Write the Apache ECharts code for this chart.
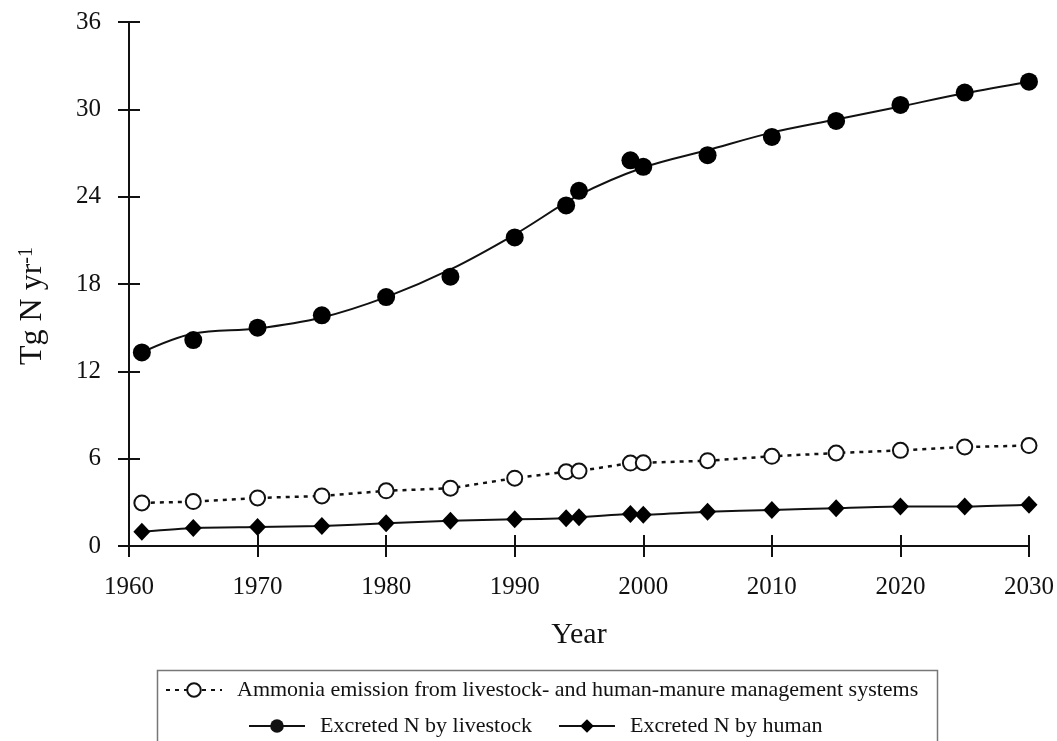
<!doctype html>
<html>
    <head>
        <meta charset="utf-8">
        <title>Excreted N and ammonia emission</title>
        <style>
            html, body { margin: 0; padding: 0; background: #fff; }
            #main { width: 1057px; height: 741px; }
        </style>
    </head>
    <body>
        <div id="main"></div>
        <script src="https://cdn.jsdelivr.net/npm/echarts@6/dist/echarts.min.js"></script>
        <script>
            // years with reported / projected values
            var years = [1961, 1965, 1970, 1975, 1980, 1985, 1990, 1994, 1995, 1999, 2000, 2005, 2010, 2015, 2020, 2025, 2030];

            var livestockPoints = [13.3, 14.15, 15.0, 15.85, 17.1, 18.5, 21.2, 23.4, 24.4, 26.5, 26.05, 26.85, 28.1, 29.2, 30.3, 31.15, 31.9];
            var ammoniaPoints = [2.96, 3.05, 3.3, 3.44, 3.79, 3.97, 4.66, 5.1, 5.15, 5.7, 5.72, 5.86, 6.16, 6.39, 6.57, 6.8, 6.9];
            var humanPoints = [0.98, 1.24, 1.3, 1.38, 1.56, 1.74, 1.83, 1.9, 1.97, 2.2, 2.15, 2.36, 2.48, 2.6, 2.71, 2.71, 2.83];

            // trend curve drawn through the livestock points
            var trendYears = [1961, 1965, 1970, 1975, 1980, 1985, 1990, 1995, 2000, 2005, 2010, 2015, 2020, 2025, 2030];
            var livestockTrend = [13.3, 14.6, 14.95, 15.7, 17.1, 19.0, 21.4, 24.1, 26.0, 27.2, 28.4, 29.3, 30.2, 31.1, 31.9];

            var yTicks = [0, 6, 12, 18, 24, 30, 36];

            var NAME_AMMONIA = 'Ammonia emission from livestock- and human-manure management systems';
            var NAME_LIVESTOCK = 'Excreted N by livestock';
            var NAME_HUMAN = 'Excreted N by human';

            function pairs(xs, ys) {
                return xs.map(function (x, i) { return [x, ys[i]]; });
            }

            var serif = 'Liberation Serif';
            var ink = '#111';

            var chart = echarts.init(document.getElementById('main'));

            var xAxisBase = {
                type: 'value',
                min: 1960,
                max: 2030,
                interval: 10,
                axisLine: { show: true, lineStyle: { color: ink, width: 2 } },
                splitLine: { show: false },
                axisTick: { show: true, length: 11, lineStyle: { color: ink, width: 2 } }
            };
            var yAxisBase = {
                type: 'value',
                min: yTicks[0],
                max: yTicks[yTicks.length - 1],
                interval: 6,
                axisLine: { show: true, lineStyle: { color: ink, width: 2 } },
                splitLine: { show: false },
                axisTick: { show: true, length: 11, lineStyle: { color: ink, width: 2 } }
            };

            chart.setOption({
                animation: false,
                backgroundColor: '#fff',
                textStyle: { fontFamily: serif, color: ink },
                grid: { left: 129, right: 26, top: 22, bottom: 195, containLabel: false },
                xAxis: [
                    Object.assign({}, xAxisBase, {
                        name: 'Year',
                        nameLocation: 'middle',
                        nameGap: 74,
                        nameTextStyle: { fontFamily: serif, fontSize: 30, color: ink },
                        axisLabel: {
                            fontFamily: serif, fontSize: 25, color: ink, margin: 29,
                            formatter: function (v) { return String(v); }
                        }
                    }),
                    Object.assign({}, xAxisBase, {
                        position: 'bottom',
                        axisTick: { show: true, inside: true, length: 11, lineStyle: { color: ink, width: 2 } },
                        axisLabel: { show: false }
                    })
                ],
                yAxis: [
                    Object.assign({}, yAxisBase, {
                        name: '{n|Tg N yr}{s|-1}',
                        nameLocation: 'middle',
                        nameRotate: 90,
                        nameGap: 80,
                        nameTextStyle: {
                            padding: [0, 44, 0, 0],
                            rich: {
                                n: { fontFamily: serif, fontSize: 32, color: ink, lineHeight: 32 },
                                s: { fontFamily: serif, fontSize: 20, color: ink, verticalAlign: 'top', lineHeight: 32 }
                            }
                        },
                        axisLabel: { fontFamily: serif, fontSize: 25, color: ink, margin: 28 }
                    }),
                    Object.assign({}, yAxisBase, {
                        position: 'left',
                        axisTick: { show: true, inside: true, length: 11, lineStyle: { color: ink, width: 2 } },
                        axisLabel: { show: false }
                    })
                ],
                legend: [
                    {
                        data: [NAME_AMMONIA],
                        left: 160,
                        top: 674,
                        itemWidth: 56,
                        itemHeight: 17,
                        selectedMode: false,
                        textStyle: { fontFamily: serif, fontSize: 22, color: ink, padding: [0, 0, 0, 10] }
                    },
                    {
                        data: [NAME_LIVESTOCK, NAME_HUMAN],
                        left: 243,
                        top: 710,
                        itemWidth: 56,
                        itemHeight: 17,
                        itemGap: 26,
                        selectedMode: false,
                        textStyle: { fontFamily: serif, fontSize: 22, color: ink, padding: [0, 0, 0, 10] }
                    }
                ],
                graphic: [
                    {
                        type: 'rect',
                        left: 155,
                        top: 668,
                        shape: { width: 780, height: 90 },
                        style: { fill: 'none', stroke: '#777', lineWidth: 1.5 },
                        silent: true,
                        z: -1
                    }
                ],
                series: [
                    {
                        name: NAME_LIVESTOCK,
                        type: 'line',
                        data: pairs(trendYears, livestockTrend),
                        smooth: 0.35,
                        symbol: 'circle',
                        symbolSize: 14,
                        showSymbol: false,
                        itemStyle: { color: ink },
                        lineStyle: { color: ink, width: 2 },
                        z: 2
                    },
                    {
                        name: NAME_LIVESTOCK,
                        type: 'scatter',
                        data: pairs(years, livestockPoints),
                        symbol: 'circle',
                        symbolSize: 18,
                        itemStyle: { color: '#000', opacity: 1 },
                        z: 3
                    },
                    {
                        name: NAME_AMMONIA,
                        type: 'line',
                        data: pairs(years, ammoniaPoints),
                        symbol: 'emptyCircle',
                        symbolSize: 15,
                        showAllSymbol: true,
                        itemStyle: { color: ink, borderWidth: 2 },
                        lineStyle: { color: ink, width: 2.5, type: [4, 5] },
                        z: 3
                    },
                    {
                        name: NAME_HUMAN,
                        type: 'line',
                        data: pairs(years, humanPoints),
                        symbol: 'diamond',
                        symbolSize: [17, 18],
                        showAllSymbol: true,
                        smooth: 0.2,
                        itemStyle: { color: '#000' },
                        lineStyle: { color: ink, width: 2 },
                        z: 3
                    }
                ]
            });

            window.addEventListener('resize', function () {
                chart.resize();
            });
        </script>
    </body>
</html>
